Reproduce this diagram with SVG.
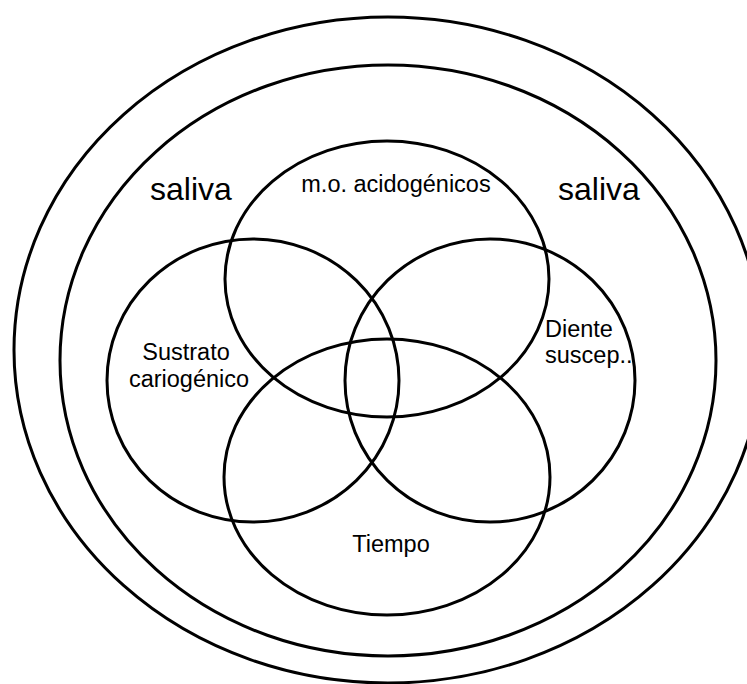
<svg xmlns="http://www.w3.org/2000/svg" width="747" height="684" viewBox="0 0 747 684">
<style>
.e{fill:none;stroke:#000;stroke-width:3}
.t{font-family:"Liberation Sans",Arial,sans-serif;font-size:23.5px;fill:#000}
.s{font-family:"Liberation Sans",Arial,sans-serif;font-size:32px;fill:#000}
</style>
<rect width="747" height="684" fill="#fff"/>
<g id="outer"><ellipse class="e" cx="388" cy="350" rx="374" ry="333"/></g>
<g id="inner"><ellipse class="e" cx="388" cy="360.5" rx="328" ry="295.5"/>
<text class="s" x="150" y="200">saliva</text>
<text class="s" x="558" y="200">saliva</text></g>
<g id="mo"><ellipse class="e" cx="387" cy="279" rx="162" ry="138"/>
<text class="t" x="396" y="192" text-anchor="middle">m.o. acidogénicos</text></g>
<g id="sustrato"><ellipse class="e" cx="253" cy="380.5" rx="146" ry="141.5"/>
<text class="t" x="186" y="360" text-anchor="middle">Sustrato</text>
<text class="t" x="189" y="387" text-anchor="middle">cariogénico</text></g>
<g id="diente"><ellipse class="e" cx="490" cy="380.5" rx="145" ry="141.5"/>
<text class="t" x="545" y="337">Diente</text>
<text class="t" x="545" y="363">suscep..</text></g>
<g id="tiempo"><ellipse class="e" cx="387" cy="477" rx="163" ry="138"/>
<text class="t" x="391" y="552" text-anchor="middle">Tiempo</text></g>
<g id="connectors"/>
</svg>
